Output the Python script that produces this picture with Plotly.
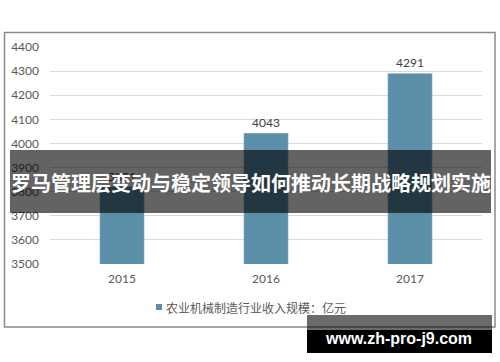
import plotly.graph_objects as go

years = ["2015", "2016", "2017"]
revenue = [3821, 4043, 4291]
series_name = "农业机械制造行业收入规模：亿元"
banner_text = "罗马管理层变动与稳定领导如何推动长期战略规划实施"
watermark = "www.zh-pro-j9.com"

W, H = 500, 362
L, R, T, B = 50, 482, 47, 264  # plot area pixel bounds


def px(x):
    return (x - L) / (R - L)


def py(y):
    return (B - y) / (B - T)


bar_color = "#5B8FA9"
num_font = "Lato, Liberation Sans, sans-serif"
cjk_font = "Noto Sans CJK SC, sans-serif"

fig = go.Figure()
fig.add_trace(go.Bar(
    x=years, y=revenue, marker_color=bar_color, width=0.31,
    text=[str(v) for v in revenue], textposition="outside",
    textfont=dict(family=num_font, size=12, color="#404040"),
    cliponaxis=False, showlegend=False,
))

shapes = [
    # outer border
    dict(type="rect", xref="paper", yref="paper", x0=px(4.5), x1=px(495), y0=py(327), y1=py(32.5),
         line=dict(color="#8a8a8a", width=1.5), fillcolor="rgba(0,0,0,0)", layer="below"),
    # legend marker
    dict(type="rect", xref="paper", yref="paper", x0=px(156), x1=px(162), y0=py(310), y1=py(304),
         line=dict(width=0), fillcolor=bar_color),
    # banner
    dict(type="rect", xref="paper", yref="paper", x0=px(10), x1=px(491), y0=py(213), y1=py(150),
         line=dict(width=0), fillcolor="rgba(0,0,0,0.61)", layer="above"),
    # watermark
    dict(type="rect", xref="paper", yref="paper", x0=px(307), x1=px(492), y0=py(330), y1=py(315),
         line=dict(width=0), fillcolor="rgba(0,0,0,0.58)", layer="above"),
    dict(type="rect", xref="paper", yref="paper", x0=px(307), x1=px(492), y0=py(353), y1=py(330),
         line=dict(width=0), fillcolor="#000000", layer="above"),
]

annotations = [
    dict(text=series_name, xref="paper", yref="paper", x=px(164), y=py(307), xanchor="left",
         yanchor="middle", showarrow=False, font=dict(family=cjk_font, size=12, color="#595959")),
    dict(text="<b>" + banner_text + "</b>", xref="paper", yref="paper", x=px(250.5), y=py(182),
         xanchor="center", yanchor="middle", showarrow=False,
         font=dict(family=cjk_font, size=20, color="#ffffff")),
    dict(text="<b>" + watermark + "</b>", xref="paper", yref="paper", x=px(398), y=py(338),
         xanchor="center", yanchor="middle", showarrow=False,
         font=dict(family="Liberation Sans, Arial, sans-serif", size=16, color="#ffffff")),
]

fig.update_layout(
    width=W, height=H,
    margin=dict(l=L, r=W - R, t=T, b=H - B, pad=0),
    paper_bgcolor="white", plot_bgcolor="white",
    shapes=shapes, annotations=annotations,
    bargap=0.69,
    xaxis=dict(showgrid=False, showline=False, ticks="", zeroline=False,
               tickfont=dict(family=num_font, size=12, color="#595959"), ticklabelstandoff=6),
    yaxis=dict(range=[3500, 4400], dtick=100, showgrid=True, gridcolor="#d9d9d9", gridwidth=1,
               zeroline=False, showline=False, ticks="",
               tickfont=dict(family=num_font, size=12, color="#595959"), ticklabelstandoff=10),
)

fig.write_html("out.html")
